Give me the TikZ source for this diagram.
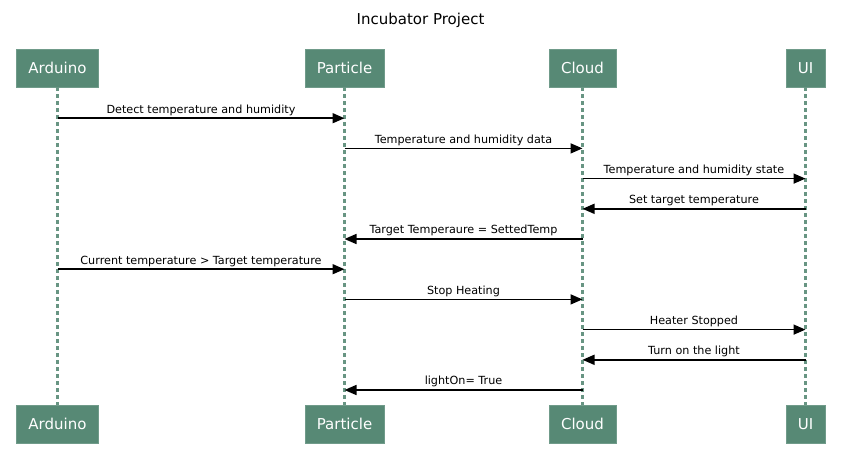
\documentclass[tikz,border=0pt]{standalone}
\usepackage{fontspec}
\setmainfont{DejaVu Sans}
\usetikzlibrary{positioning,arrows.meta,calc}
\definecolor{actorgreen}{HTML}{578975}
\tikzstyle{actor}=[rectangle,fill=actorgreen,draw=actorgreen!85!white,text=white,
  font=\fontsize{15}{17}\selectfont,minimum height=38pt,inner xsep=12pt]
\tikzstyle{lifeline}=[draw=actorgreen!90!white,line width=2.4pt,dash pattern=on 4pt off 3pt]
\tikzstyle{msg}=[draw,line width=1.6pt,-{Triangle[length=12pt,width=10pt]}]

\begin{document}
\begin{tikzpicture}[x=1pt,y=-1pt]
  \useasboundingbox (0,0) rectangle (841,467);
  \node[font=\fontsize{15}{17}\selectfont] (title) at (420.5,20) {Incubator Project};

  % participants, top and bottom
  \foreach \name/\x in {Arduino/57.5,Particle/344.5,Cloud/582.5,UI/805.5}{
    \node[actor] (\name-top) at (\x,68) {\name};
    \node[actor] (\name-bot) at (\x,424) {\name};
    \path[lifeline] (\name-top.south) -- (\name-bot.north);
  }

  % message rows on the lifelines
  \foreach \i in {1,...,10}{
    \coordinate (A-\i) at ($(Arduino-top.south)+(0,{31+30.2*(\i-1)})$);
    \coordinate (P-\i) at ($(Particle-top.south)+(0,{31+30.2*(\i-1)})$);
    \coordinate (C-\i) at ($(Cloud-top.south)+(0,{31+30.2*(\i-1)})$);
    \coordinate (U-\i) at ($(UI-top.south)+(0,{31+30.2*(\i-1)})$);
  }

  \path[font=\fontsize{11.2}{13}\selectfont,every edge/.style={msg},
        every node/.style={above,inner sep=2pt}]
    (A-1) edge node{Detect temperature and humidity} (P-1)
    (P-2) edge node{Temperature and humidity data} (C-2)
    (C-3) edge node{Temperature and humidity state} (U-3)
    (U-4) edge node{Set target temperature} (C-4)
    (C-5) edge node{Target Temperaure = SettedTemp} (P-5)
    (A-6) edge node{Current temperature > Target temperature} (P-6)
    (P-7) edge node{Stop Heating} (C-7)
    (C-8) edge node{Heater Stopped} (U-8)
    (U-9) edge node{Turn on the light} (C-9)
    (C-10) edge node{lightOn= True} (P-10);
\end{tikzpicture}
\end{document}
